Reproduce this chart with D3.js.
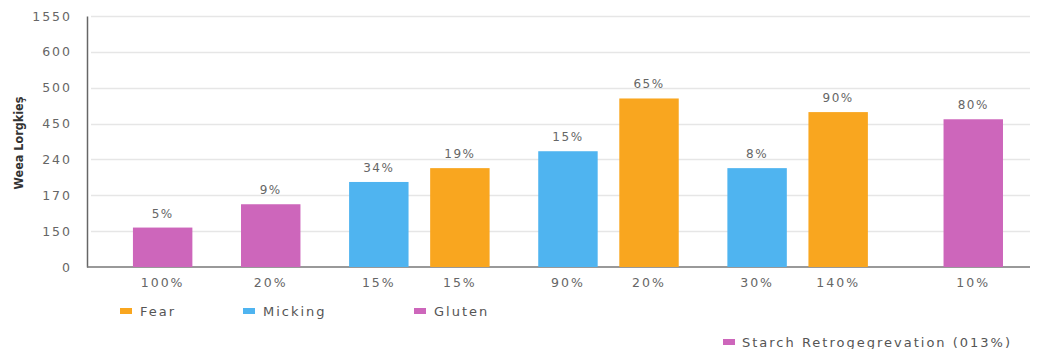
<!DOCTYPE html>
<html>
<head>
<meta charset="utf-8">
<script src="https://cdn.jsdelivr.net/npm/d3@7"></script>
<style>
  body { margin: 0; background: #fff; }
  svg { display: block; }
  text { font-family: "DejaVu Sans", Verdana, sans-serif; }
</style>
</head>
<body>
<svg id="chart"></svg>
<script>
// tick labels on the y axis (evenly spaced in the picture)
const yTicks = [0, 150, 170, 240, 450, 500, 600, 1550]

// bars, left to right
const categories = ['100%', '20%', '15%', '15%', '90%', '20%', '30%', '140%', '10%']
const series = ['Gluten', 'Gluten', 'Micking', 'Fear', 'Micking', 'Fear', 'Micking', 'Fear', 'Starch']
const values = [152, 165, 196, 223, 288, 485, 223, 466, 456]
const barLabels = ['5%', '9%', '34%', '19%', '15%', '65%', '8%', '90%', '80%']
// cluster each bar belongs to (pairs sit closer together)
const clusters = [0, 1, 2, 2, 3, 3, 4, 4, 5]

const legendMain = ['Fear', 'Micking', 'Gluten']
const legendExtra = ['Starch Retrogegrevation (013%)']

const colors = {Fear: '#f9a61f', Micking: '#4fb4f0', Gluten: '#cd66bb', Starch: '#cd66bb'}

var W = 1043, H = 349
var margin = {top: 16, right: 13, bottom: 82, left: 87}
var width = W - margin.left - margin.right,
    height = H - margin.top - margin.bottom

// slot positions: 3 units within a cluster, 4 between clusters, 5 before the last one
const slots = []
categories.forEach(function (c, i) {
    if (i === 0) { slots.push(0); return }
    var step = clusters[i] === clusters[i - 1] ? 3 : 4
    if (series[i] === 'Starch') step = 5
    slots.push(slots[i - 1] + step)
})

const svg = d3.select('#chart').attr('width', W).attr('height', H)
const g = svg.append('g').attr('transform', 'translate(' + margin.left + ',' + margin.top + ')')

var x = d3.scaleLinear()
    .domain([d3.min(slots) - 2.8, d3.max(slots) + 2.1])
    .range([0, width])
var bw = x(2.2) - x(0)

// piecewise scale: every tick label gets an equal step
var y = d3.scaleLinear()
    .domain(yTicks)
    .range(yTicks.map(function (d, i) { return height - i * height / (yTicks.length - 1) }))

// grid
g.append('g').selectAll('line')
    .data(yTicks.slice(1))
    .join('line')
    .attr('x1', 4).attr('x2', width)
    .attr('y1', function (d) { return Math.round(y(d)) + 0.5 })
    .attr('y2', function (d) { return Math.round(y(d)) + 0.5 })
    .attr('stroke', '#e6e6e6')
    .attr('stroke-width', 1.5)

// y axis
const yAxis = d3.axisLeft(y).tickValues(yTicks).tickFormat(d3.format('d')).tickSize(0).tickPadding(15)
const gY = g.append('g').call(yAxis)
gY.select('.domain').attr('stroke', '#666').attr('stroke-width', 1.5)
gY.selectAll('text').attr('fill', '#666').attr('font-size', 12.5)
    .attr('font-family', null).style('letter-spacing', '2px')

// baseline
g.append('line')
    .attr('x1', 0).attr('x2', width)
    .attr('y1', height).attr('y2', height)
    .attr('stroke', '#777').attr('stroke-width', 1.5)

// bars
g.selectAll('.bar')
    .data(values)
    .join('rect')
    .attr('class', 'bar')
    .attr('x', function (d, i) { return x(slots[i]) - bw / 2 })
    .attr('y', function (d) { return y(d) })
    .attr('width', bw)
    .attr('height', function (d) { return height - y(d) })
    .attr('fill', function (d, i) { return colors[series[i]] })

// value labels
g.selectAll('.val')
    .data(values)
    .join('text')
    .attr('class', 'val')
    .attr('x', function (d, i) { return x(slots[i]) })
    .attr('y', function (d) { return y(d) - 10 })
    .attr('text-anchor', 'middle')
    .attr('font-size', 12)
    .attr('fill', '#666')
    .style('letter-spacing', '1.5px')
    .text(function (d, i) { return barLabels[i] })

// category labels
g.selectAll('.cat')
    .data(categories)
    .join('text')
    .attr('class', 'cat')
    .attr('x', function (d, i) { return x(slots[i]) })
    .attr('y', height + 20)
    .attr('text-anchor', 'middle')
    .attr('font-size', 12.5)
    .attr('fill', '#666')
    .style('letter-spacing', '2px')
    .text(function (d) { return d })

// axis title
svg.append('text')
    .attr('transform', 'translate(23,143) rotate(-90)')
    .attr('text-anchor', 'middle')
    .attr('font-size', 12.5)
    .attr('font-weight', 'bold')
    .attr('fill', '#333')
    .style('font-family', '"DejaVu Sans Condensed", "Liberation Sans Narrow", sans-serif')
    .style('font-stretch', 'condensed')
    .text('Weea Lorgkieş')

// legends
var legX = [120, 243, 414]
const leg = svg.append('g').selectAll('g')
    .data(legendMain)
    .join('g')
    .attr('transform', function (d, i) { return 'translate(' + legX[i] + ',311)' })
leg.append('rect').attr('x', 0).attr('y', -3).attr('width', 12).attr('height', 6)
    .attr('fill', function (d) { return colors[d] })
leg.append('text').attr('x', 20).attr('y', 4.5).attr('font-size', 13).attr('fill', '#555')
    .style('letter-spacing', '2px')
    .text(function (d) { return d })

const leg2 = svg.append('g').selectAll('g')
    .data(legendExtra)
    .join('g')
    .attr('transform', 'translate(723,342)')
leg2.append('rect').attr('x', 0).attr('y', -3).attr('width', 12).attr('height', 6)
    .attr('fill', colors.Starch)
leg2.append('text').attr('x', 19).attr('y', 4.5).attr('font-size', 13).attr('fill', '#555')
    .style('letter-spacing', '2px')
    .text(function (d) { return d })
</script>
</body>
</html>
